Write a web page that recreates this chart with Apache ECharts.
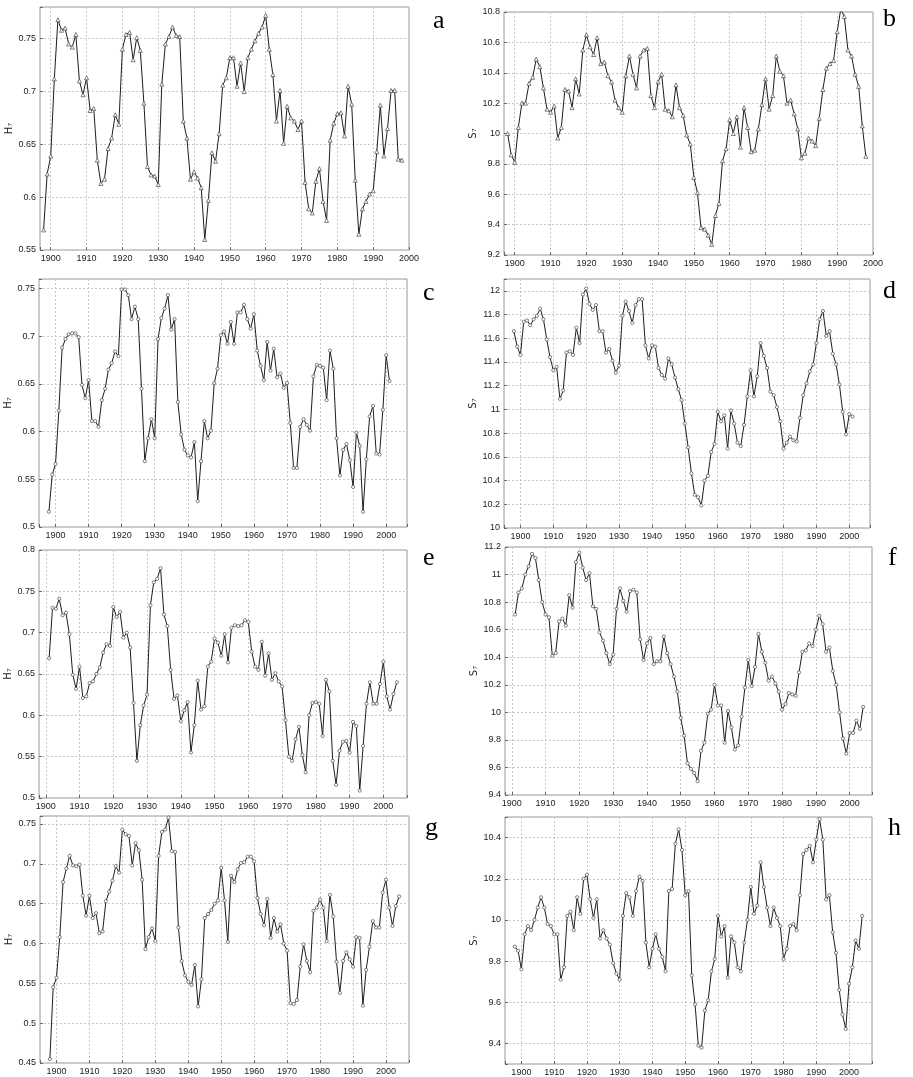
<!DOCTYPE html>
<html>
<head>
<meta charset="utf-8">
<script src="https://cdn.jsdelivr.net/npm/echarts@6/dist/echarts.min.js"></script>
<style>
    html, body { margin: 0; padding: 0; background: #fff; }
    #main { width: 913px; height: 1077px; }
</style>
</head>
<body>
<div id="main"></div>
<script>
// first year of every series
var aStart = 1898, bStart = 1898, cStart = 1898, dStart = 1898;
var eStart = 1901, fStart = 1901, gStart = 1898, hStart = 1898;

// a: H7, 1898-1998
var aH = [0.569, 0.622, 0.639, 0.712, 0.768, 0.758, 0.760, 0.745, 0.742, 0.754,
    0.710, 0.697, 0.713, 0.682, 0.684, 0.635, 0.613, 0.617, 0.646, 0.656,
    0.678, 0.669, 0.740, 0.754, 0.756, 0.730, 0.751, 0.739, 0.689, 0.629,
    0.621, 0.620, 0.612, 0.707, 0.745, 0.752, 0.761, 0.753, 0.752, 0.672,
    0.656, 0.617, 0.624, 0.618, 0.609, 0.560, 0.597, 0.642, 0.634, 0.660,
    0.706, 0.713, 0.732, 0.732, 0.705, 0.727, 0.700, 0.732, 0.740, 0.748,
    0.755, 0.761, 0.772, 0.740, 0.716, 0.672, 0.701, 0.651, 0.686, 0.675,
    0.672, 0.664, 0.672, 0.614, 0.589, 0.585, 0.615, 0.627, 0.596, 0.578,
    0.654, 0.670, 0.679, 0.680, 0.658, 0.705, 0.688, 0.616, 0.565, 0.589,
    0.596, 0.603, 0.606, 0.643, 0.687, 0.639, 0.665, 0.701, 0.701, 0.636,
    0.635];

// b: S7, 1898-1998
var bS = [10.00, 9.86, 9.81, 10.04, 10.20, 10.20, 10.33, 10.37, 10.49, 10.44,
    10.30, 10.16, 10.14, 10.18, 9.97, 10.04, 10.29, 10.28, 10.17, 10.36,
    10.26, 10.55, 10.65, 10.57, 10.52, 10.63, 10.46, 10.47, 10.38, 10.34,
    10.22, 10.17, 10.14, 10.38, 10.51, 10.39, 10.30, 10.51, 10.55, 10.56,
    10.25, 10.17, 10.34, 10.39, 10.16, 10.15, 10.11, 10.32, 10.17, 10.12,
    9.99, 9.93, 9.71, 9.61, 9.38, 9.37, 9.33, 9.27, 9.46, 9.54,
    9.82, 9.90, 10.09, 10.00, 10.11, 9.91, 10.17, 10.04, 9.88, 9.89,
    10.03, 10.19, 10.36, 10.16, 10.25, 10.51, 10.41, 10.38, 10.20, 10.22,
    10.13, 10.03, 9.84, 9.87, 9.97, 9.95, 9.92, 10.10, 10.29, 10.43,
    10.46, 10.48, 10.67, 10.82, 10.77, 10.55, 10.51, 10.39, 10.31, 10.05,
    9.85];

// c: H7, 1898-2001
var cH = [0.516, 0.555, 0.566, 0.622, 0.688, 0.697, 0.702, 0.703, 0.703, 0.699,
    0.649, 0.635, 0.654, 0.611, 0.611, 0.605, 0.633, 0.645, 0.665, 0.672,
    0.684, 0.679, 0.749, 0.749, 0.743, 0.718, 0.731, 0.718, 0.645, 0.569,
    0.593, 0.613, 0.593, 0.697, 0.719, 0.729, 0.743, 0.707, 0.718, 0.631,
    0.597, 0.581, 0.575, 0.573, 0.589, 0.527, 0.569, 0.611, 0.593, 0.601,
    0.651, 0.666, 0.701, 0.705, 0.692, 0.715, 0.692, 0.725, 0.725, 0.733,
    0.718, 0.708, 0.723, 0.685, 0.669, 0.654, 0.694, 0.664, 0.687, 0.657,
    0.661, 0.646, 0.651, 0.609, 0.562, 0.562, 0.605, 0.613, 0.607, 0.601,
    0.658, 0.670, 0.669, 0.667, 0.633, 0.685, 0.666, 0.593, 0.554, 0.581,
    0.587, 0.570, 0.542, 0.599, 0.585, 0.516, 0.571, 0.616, 0.627, 0.577,
    0.576, 0.623, 0.680, 0.653];

// d: S7, 1898-2001
var dS = [11.66, 11.53, 11.46, 11.74, 11.75, 11.71, 11.76, 11.79, 11.85, 11.76,
    11.59, 11.44, 11.33, 11.36, 11.09, 11.16, 11.48, 11.49, 11.46, 11.69,
    11.56, 11.97, 12.02, 11.89, 11.84, 11.88, 11.66, 11.66, 11.48, 11.51,
    11.41, 11.31, 11.37, 11.79, 11.91, 11.83, 11.73, 11.88, 11.93, 11.93,
    11.54, 11.43, 11.54, 11.53, 11.35, 11.29, 11.26, 11.43, 11.38, 11.27,
    11.17, 11.08, 10.88, 10.68, 10.46, 10.28, 10.26, 10.19, 10.40, 10.44,
    10.64, 10.71, 10.98, 10.90, 10.95, 10.67, 10.99, 10.88, 10.72, 10.69,
    10.87, 11.11, 11.33, 11.11, 11.28, 11.56, 11.45, 11.35, 11.15, 11.12,
    11.02, 10.90, 10.67, 10.72, 10.77, 10.74, 10.73, 10.93, 11.12, 11.22,
    11.32, 11.38, 11.56, 11.76, 11.83, 11.62, 11.66, 11.47, 11.38, 11.21,
    10.98, 10.79, 10.96, 10.94];

// e: H7, 1901-2004
var eH = [0.669, 0.730, 0.729, 0.741, 0.721, 0.724, 0.698, 0.649, 0.632, 0.659,
    0.621, 0.623, 0.639, 0.641, 0.650, 0.658, 0.676, 0.686, 0.684, 0.731,
    0.719, 0.725, 0.694, 0.700, 0.682, 0.615, 0.545, 0.588, 0.612, 0.625,
    0.733, 0.761, 0.765, 0.778, 0.722, 0.708, 0.655, 0.620, 0.624, 0.593,
    0.606, 0.616, 0.555, 0.588, 0.642, 0.607, 0.611, 0.659, 0.665, 0.693,
    0.688, 0.672, 0.698, 0.664, 0.706, 0.709, 0.708, 0.709, 0.715, 0.713,
    0.677, 0.659, 0.655, 0.689, 0.648, 0.675, 0.643, 0.651, 0.641, 0.635,
    0.594, 0.550, 0.545, 0.571, 0.586, 0.552, 0.531, 0.600, 0.615, 0.616,
    0.614, 0.575, 0.643, 0.629, 0.545, 0.516, 0.557, 0.568, 0.569, 0.555,
    0.592, 0.587, 0.509, 0.563, 0.614, 0.640, 0.614, 0.614, 0.638, 0.665,
    0.623, 0.607, 0.626, 0.640];

// f: S7, 1901-2004
var fS = [10.71, 10.87, 10.90, 11.00, 11.06, 11.15, 11.12, 10.96, 10.80, 10.71,
    10.69, 10.41, 10.43, 10.66, 10.68, 10.63, 10.85, 10.76, 11.09, 11.16,
    11.05, 10.96, 11.01, 10.77, 10.75, 10.58, 10.52, 10.43, 10.35, 10.42,
    10.75, 10.90, 10.81, 10.73, 10.88, 10.89, 10.87, 10.53, 10.38, 10.50,
    10.54, 10.35, 10.37, 10.37, 10.55, 10.43, 10.35, 10.26, 10.15, 9.96,
    9.83, 9.63, 9.59, 9.56, 9.50, 9.72, 9.78, 9.99, 10.02, 10.20,
    10.05, 10.05, 9.78, 10.01, 9.89, 9.73, 9.76, 9.97, 10.18, 10.38,
    10.19, 10.33, 10.57, 10.44, 10.36, 10.23, 10.26, 10.21, 10.15, 10.02,
    10.06, 10.14, 10.13, 10.12, 10.29, 10.44, 10.45, 10.50, 10.48, 10.60,
    10.70, 10.64, 10.44, 10.47, 10.30, 10.20, 10.00, 9.81, 9.70, 9.85,
    9.85, 9.94, 9.88, 10.04];

// g: H7, 1898-2004
var gH = [0.455, 0.545, 0.557, 0.608, 0.677, 0.694, 0.710, 0.698, 0.697, 0.699,
    0.660, 0.635, 0.660, 0.632, 0.638, 0.613, 0.615, 0.653, 0.665, 0.679,
    0.697, 0.689, 0.743, 0.737, 0.735, 0.698, 0.726, 0.717, 0.680, 0.593,
    0.608, 0.619, 0.603, 0.710, 0.740, 0.743, 0.758, 0.716, 0.715, 0.620,
    0.578, 0.560, 0.552, 0.548, 0.573, 0.521, 0.555, 0.632, 0.637, 0.642,
    0.650, 0.654, 0.695, 0.654, 0.602, 0.685, 0.677, 0.693, 0.701, 0.702,
    0.709, 0.709, 0.703, 0.657, 0.637, 0.623, 0.656, 0.607, 0.632, 0.615,
    0.624, 0.600, 0.591, 0.525, 0.524, 0.529, 0.571, 0.599, 0.578, 0.564,
    0.641, 0.645, 0.655, 0.645, 0.603, 0.661, 0.634, 0.577, 0.538, 0.578,
    0.589, 0.580, 0.571, 0.608, 0.607, 0.522, 0.567, 0.596, 0.628, 0.620,
    0.620, 0.664, 0.680, 0.645, 0.622, 0.647, 0.659];

// h: S7, 1898-2004
var hS = [9.87, 9.85, 9.76, 9.93, 9.97, 9.95, 10.00, 10.06, 10.11, 10.06,
    9.98, 9.97, 9.93, 9.93, 9.71, 9.77, 10.02, 10.04, 9.95, 10.11,
    10.03, 10.20, 10.22, 10.10, 10.01, 10.10, 9.91, 9.95, 9.91, 9.88,
    9.79, 9.74, 9.71, 10.02, 10.13, 10.11, 10.02, 10.14, 10.21, 10.19,
    9.89, 9.77, 9.86, 9.93, 9.86, 9.82, 9.75, 10.14, 10.15, 10.37,
    10.44, 10.34, 10.12, 10.14, 9.73, 9.59, 9.39, 9.38, 9.56, 9.61,
    9.75, 9.81, 10.02, 9.92, 9.97, 9.72, 9.92, 9.89, 9.77, 9.75,
    9.89, 10.00, 10.16, 10.03, 10.07, 10.28, 10.16, 10.06, 9.97, 10.06,
    10.01, 9.97, 9.81, 9.86, 9.97, 9.98, 9.95, 10.12, 10.32, 10.34,
    10.36, 10.28, 10.39, 10.49, 10.39, 10.10, 10.12, 9.94, 9.84, 9.66,
    9.54, 9.47, 9.69, 9.77, 9.90, 9.86, 10.02];

var panels = [
    { letter: 'a', values: aH, start: aStart, yName: 'H₇', symbol: 'triangle', box: [40, 7, 369, 243], xr: [1897, 2000], yr: [0.55, 0.78], step: 0.05, pos: [433, 8] },
    { letter: 'b', values: bS, start: bStart, yName: 'S₇', symbol: 'triangle', box: [504, 12, 369, 243], xr: [1897, 2000], yr: [9.2, 10.8], step: 0.2, pos: [883, 6] },
    { letter: 'c', values: cH, start: cStart, yName: 'H₇', symbol: 'circle', box: [39, 279, 368, 248], xr: [1895, 2006.3], yr: [0.5, 0.76], step: 0.05, pos: [423, 280] },
    { letter: 'd', values: dS, start: dStart, yName: 'S₇', symbol: 'circle', box: [504, 279, 366, 249], xr: [1895, 2006.3], yr: [10, 12.1], step: 0.2, pos: [883, 278] },
    { letter: 'e', values: eH, start: eStart, yName: 'H₇', symbol: 'circle', box: [39, 550, 368, 248], xr: [1898, 2007], yr: [0.5, 0.8], step: 0.05, pos: [423, 545] },
    { letter: 'f', values: fS, start: fStart, yName: 'S₇', symbol: 'circle', box: [505, 547, 367, 248], xr: [1898, 2006.6], yr: [9.4, 11.2], step: 0.2, pos: [888, 545] },
    { letter: 'g', values: gH, start: gStart, yName: 'H₇', symbol: 'circle', box: [40, 816, 369, 247], xr: [1895, 2007], yr: [0.45, 0.76], step: 0.05, pos: [425, 815] },
    { letter: 'h', values: hS, start: hStart, yName: 'S₇', symbol: 'circle', box: [505, 817, 367, 250], xr: [1895, 2007], yr: [9.3, 10.5], step: 0.2, pos: [888, 815] }
];

var chart = echarts.init(document.getElementById('main'));
var grids = [], xAxes = [], yAxes = [], series = [], texts = [];

var gridLine = { show: true, lineStyle: { color: '#c8c8c8', type: [2, 2], width: 1 } };
var tickFont = { fontSize: 9, color: '#222', fontFamily: 'Liberation Sans, Arial, sans-serif' };

panels.forEach(function (p, i) {
    grids.push({
        left: p.box[0], top: p.box[1], width: p.box[2], height: p.box[3],
        show: true, borderColor: '#9a9a9a', borderWidth: 1, containLabel: false
    });
    xAxes.push({
        type: 'value', gridIndex: i, min: p.xr[0], max: p.xr[1], splitNumber: 10,
        axisLine: { show: false },
        axisTick: { show: true, inside: true, length: 3, lineStyle: { color: '#666' } },
        axisLabel: Object.assign({
            margin: 4,
            formatter: function (v) { return v % 10 === 0 ? String(v) : ''; }
        }, tickFont),
        splitLine: gridLine
    });
    var step = p.step;
    yAxes.push({
        type: 'value', gridIndex: i, min: p.yr[0], max: p.yr[1],
        splitNumber: Math.round((p.yr[1] - p.yr[0]) / step),
        name: p.yName, nameLocation: 'middle', nameRotate: 90, nameGap: 25,
        nameTextStyle: { fontSize: 10, color: '#222', fontFamily: 'DejaVu Sans, sans-serif' },
        axisLine: { show: false },
        axisTick: { show: true, inside: true, length: 3, lineStyle: { color: '#666' } },
        axisLabel: Object.assign({
            margin: 4,
            formatter: function (v) {
                var k = v / step;
                if (Math.abs(k - Math.round(k)) > 1e-6) return '';
                return String(+v.toFixed(2));
            }
        }, tickFont),
        splitLine: gridLine
    });
    var tri = p.symbol === 'triangle';
    series.push({
        type: 'line', xAxisIndex: i, yAxisIndex: i,
        data: p.values.map(function (v, k) { return [p.start + k, v]; }),
        symbol: p.symbol, symbolSize: tri ? 4 : 3.2, showAllSymbol: true,
        lineStyle: { color: '#1e1e1e', width: 1 },
        itemStyle: { color: '#ffffff', borderColor: '#4a4a4a', borderWidth: 0.7 },
        clip: true
    });
    texts.push({
        type: 'text', left: p.pos[0], top: p.pos[1],
        style: { text: p.letter, font: '26px "Liberation Serif", "Times New Roman", serif', fill: '#000' }
    });
});

var option = {
    animation: false,
    backgroundColor: '#fff',
    grid: grids,
    xAxis: xAxes,
    yAxis: yAxes,
    series: series,
    graphic: texts
};
chart.setOption(option);
</script>
</body>
</html>
